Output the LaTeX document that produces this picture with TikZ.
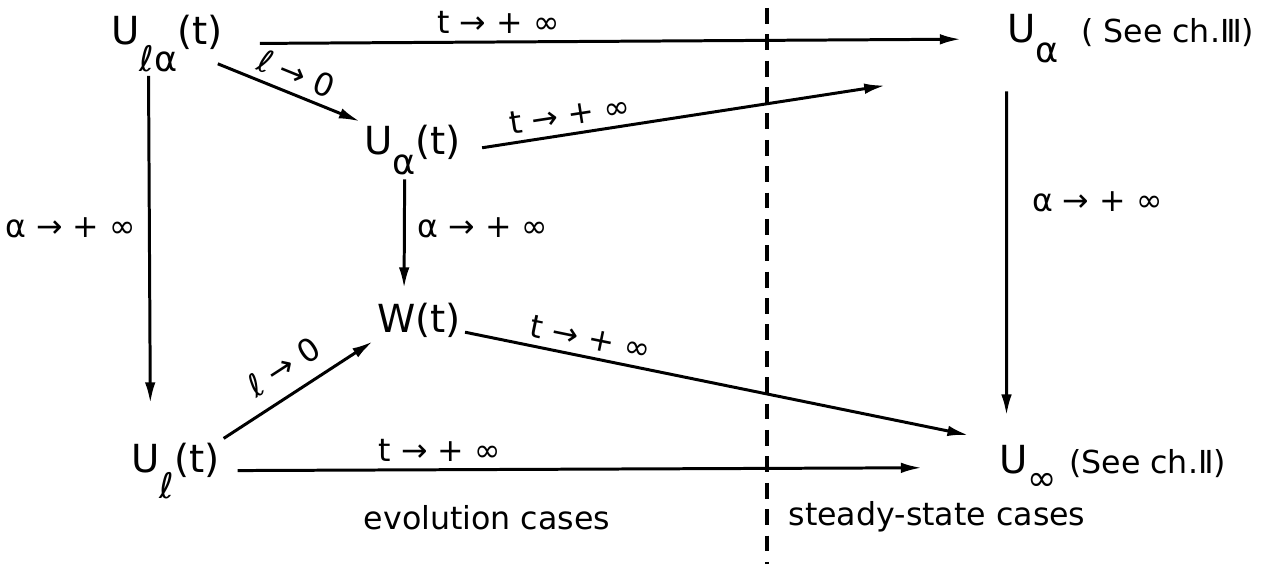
\documentclass[tikz,border=0pt]{standalone}
\usepackage{fontspec}
\setmainfont{DejaVu Sans}
\usetikzlibrary{arrows.meta}
\newcommand{\dn}[1]{\raisebox{-\height}{\fontsize{10}{12}\selectfont #1}}

\begin{document}
\begin{tikzpicture}[x=0.01cm,y=-0.01cm,state/.style={anchor=base west,inner sep=1pt,font=\fontsize{11}{13}\selectfont},lim/.style={inner sep=2pt,font=\fontsize{9}{11}\selectfont},caption/.style={font=\fontsize{9}{11}\selectfont},flow/.style={line width=0.85pt,-{Latex[length=6pt,width=3pt]}},divide/.style={line width=0.9pt,dash pattern=on 4.5pt off 3pt}]
\useasboundingbox (0,0) rectangle (1276,564);
\coordinate (A) at (107,45);
\coordinate (B) at (360,155);
\coordinate (C) at (373,332);
\coordinate (D) at (127,472);
\coordinate (E) at (1003,43);
\coordinate (F) at (995,473);
\coordinate (dtop) at (767,8);
\coordinate (dbot) at (767,564);
\node[state] (ula) at (A) {U\dn{ℓα}(t)};
\node[state] (uat) at (B) {U\dn{α}(t)};
\node[state] (w) at (C) {W(t)};
\node[state] (ul) at (D) {U\dn{ℓ}(t)};
\node[state] (ua) at (E) {U\dn{α}\ {\fontsize{9}{11}\selectfont\ ( See ch.Ⅲ)}};
\node[state] (uinf) at (F) {U\dn{∞}\ {\fontsize{9}{11}\selectfont (See ch.Ⅱ)}};
\draw[divide] (dtop) -- (dbot);
\draw[flow,shorten <=0.33cm,shorten >=0.42cm] (ula.east) -- (ua.west) node[lim,pos=0.35,above] {t → + ∞};
\draw[flow] ([xshift=-0.09cm,yshift=0.12cm]ula.south east) -- (uat.north west) node[lim,midway,sloped,above] {ℓ → 0};
\draw[flow,shorten <=0.17cm,shorten >=1.19cm] (uat.east) -- (ua.south west) node[lim,pos=0.2,sloped,above] {t → + ∞};
\draw[flow,shorten >=0.35cm] ([xshift=0.415cm]ula.south west) -- ([xshift=0.235cm]ul.north west) node[lim,pos=0.42,left=0.05cm] {α → + ∞};
\draw[flow,shorten >=0.1cm] ([xshift=-0.08cm]uat.south) -- ([xshift=-0.15cm]w.north) node[lim,pos=0.41,right=0.05cm] {α → + ∞};
\draw[flow,shorten <=0.24cm,shorten >=0.25cm] ([xshift=0.035cm]ua.south west) -- ([xshift=0.115cm]uinf.north west) node[lim,pos=0.36,right=0.17cm] {α → + ∞};
\draw[flow] (ul.north east) -- (w.south west) node[lim,midway,sloped,above=2pt] {ℓ → 0};
\draw[flow,shorten >=0.27cm] (w.-15) -- (uinf.north west) node[lim,pos=0.23,sloped,above] {t → + ∞};
\draw[flow,shorten <=0.14cm,shorten >=0.73cm] (ul.east) -- (uinf.west) node[lim,pos=0.28,above] {t → + ∞};
\node[caption] (evo) at (487,518) {evolution cases};
\node[caption] (steady) at (937,517) {steady-state cases};
\end{tikzpicture}
\end{document}
